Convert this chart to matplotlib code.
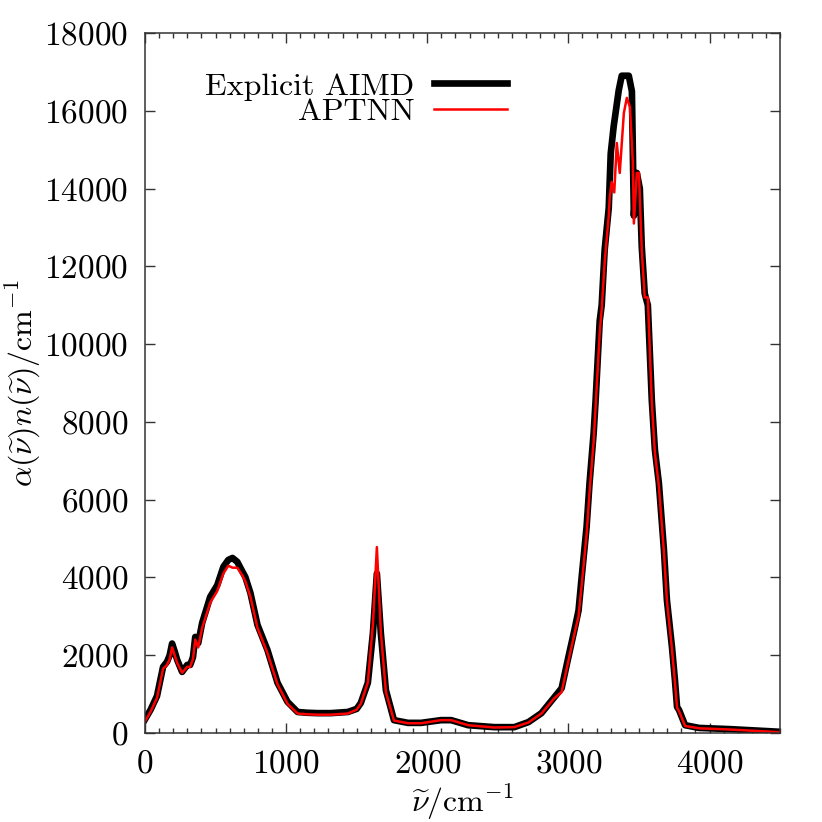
import numpy as np
import matplotlib
matplotlib.use("Agg")
import matplotlib.pyplot as plt
from matplotlib.ticker import MultipleLocator

plt.rcParams['font.family'] = 'cmr10'
plt.rcParams['mathtext.fontset'] = 'cm'
plt.rcParams['axes.formatter.use_mathtext'] = True

# explicit AIMD spectrum
aimd_x = [0, 40, 85, 128, 156, 175, 192, 210, 228, 263, 299, 320, 340, 356, 377, 405,
          462, 512, 555, 590, 620, 654, 690, 711, 747, 797, 868, 939, 1010, 1081, 1150,
          1223, 1316, 1437, 1500, 1529, 1579, 1615, 1643, 1671, 1707, 1764, 1863, 1956,
          2098, 2169, 2290, 2475, 2617, 2717, 2809, 2902, 2952, 3000, 3043, 3072, 3094,
          3129, 3150, 3179, 3193, 3222, 3236, 3257, 3286, 3300, 3321, 3357, 3378, 3428,
          3450, 3464, 3485, 3506, 3520, 3541, 3563, 3591, 3613, 3641, 3677, 3698, 3734,
          3755, 3770, 3784, 3827, 3926, 4139, 4500]
aimd_y = [350, 600, 950, 1700, 1830, 2000, 2300, 2100, 1880, 1570, 1750, 1750, 1950, 2470,
          2310, 2830, 3500, 3800, 4270, 4450, 4500, 4400, 4150, 4010, 3600, 2780, 2130,
          1290, 800, 540, 520, 510, 510, 540, 620, 770, 1290, 2570, 4100, 2570, 1100, 330,
          260, 260, 330, 330, 200, 150, 150, 280, 510, 925, 1150, 1950, 2650, 3150, 4000,
          5300, 6430, 7710, 8560, 10600, 11000, 12420, 13500, 14900, 15600, 16530, 16900,
          16900, 16500, 13300, 14400, 14000, 12500, 11300, 11000, 8560, 7280, 6430, 4710,
          3420, 2210, 1360, 670, 590, 200, 130, 100, 30]

# APTNN spectrum
aptnn_x = [0, 40, 85, 128, 156, 175, 192, 210, 228, 263, 299, 320, 340, 356, 377, 405,
           462, 512, 555, 590, 620, 654, 690, 711, 747, 797, 868, 939, 1010, 1081, 1150,
           1223, 1316, 1437, 1500, 1529, 1579, 1615, 1643, 1671, 1707, 1764, 1863, 1956,
           2098, 2169, 2290, 2475, 2617, 2717, 2809, 2902, 2952, 3000, 3043, 3072, 3094,
           3129, 3150, 3179, 3193, 3222, 3236, 3257, 3286, 3293, 3307, 3325, 3343, 3364,
           3393, 3414, 3436, 3457, 3464, 3485, 3500, 3520, 3541, 3563, 3591, 3613, 3641,
           3677, 3698, 3734, 3755, 3770, 3784, 3827, 3926, 4139, 4500]
aptnn_y = [300, 550, 900, 1650, 1750, 1900, 2200, 2000, 1800, 1550, 1700, 1700, 1900, 2400,
           2200, 2700, 3350, 3650, 4100, 4300, 4250, 4250, 4050, 3900, 3500, 2700, 2050,
           1250, 750, 500, 480, 470, 470, 500, 600, 750, 1300, 2800, 4780, 2600, 1050, 320,
           250, 250, 330, 330, 200, 140, 150, 270, 500, 900, 1050, 1850, 2550, 3000, 3800,
           5100, 6200, 7500, 8400, 10300, 10900, 12100, 13300, 13780, 14170, 13900, 15170,
           14400, 15940, 16330, 16100, 14650, 13100, 14400, 14400, 12400, 11200, 11200,
           8500, 7200, 6350, 4650, 3400, 2150, 1300, 650, 560, 180, 120, 90, 20]

fig = plt.figure(figsize=(8.22, 8.22), dpi=100)
ax = fig.add_axes([0.1764, 0.1083, 0.7726, 0.8516])

ax.plot(aimd_x, aimd_y, color='black', linewidth=4.8, label='Explicit AIMD',
        solid_joinstyle='round')
ax.plot(aptnn_x, aptnn_y, color='#ff0000', linewidth=1.8, label='APTNN')

ax.set_xlim(0, 4500)
ax.set_ylim(0, 18000)
ax.xaxis.set_major_locator(MultipleLocator(1000))
ax.xaxis.set_minor_locator(MultipleLocator(100))
ax.yaxis.set_major_locator(MultipleLocator(2000))
ax.tick_params(which='both', direction='in', top=True, right=True, labelsize=24,
               width=1.0, color='#333333')
ax.tick_params(which='major', length=7)
ax.tick_params(axis='y', which='major', pad=12)
ax.tick_params(axis='x', which='major', pad=12)
ax.tick_params(which='minor', length=3.6)
for s in ax.spines.values():
    s.set_linewidth(1.1)
    s.set_color('#333333')

ax.set_xlabel(r'$\widetilde{\nu}/\mathrm{cm}^{-1}$', fontsize=23, labelpad=3)
ax.set_ylabel(r'$\alpha(\widetilde{\nu})n(\widetilde{\nu})/\mathrm{cm}^{-1}$', fontsize=23,
              labelpad=1)

ax.legend(loc='upper right', bbox_to_anchor=(0.570, 0.944), frameon=False,
          markerfirst=False, fontsize=23, handlelength=2.3, handletextpad=0.6,
          labelspacing=-0.1, borderpad=0, borderaxespad=0)

fig.savefig('out.png', dpi=100)
